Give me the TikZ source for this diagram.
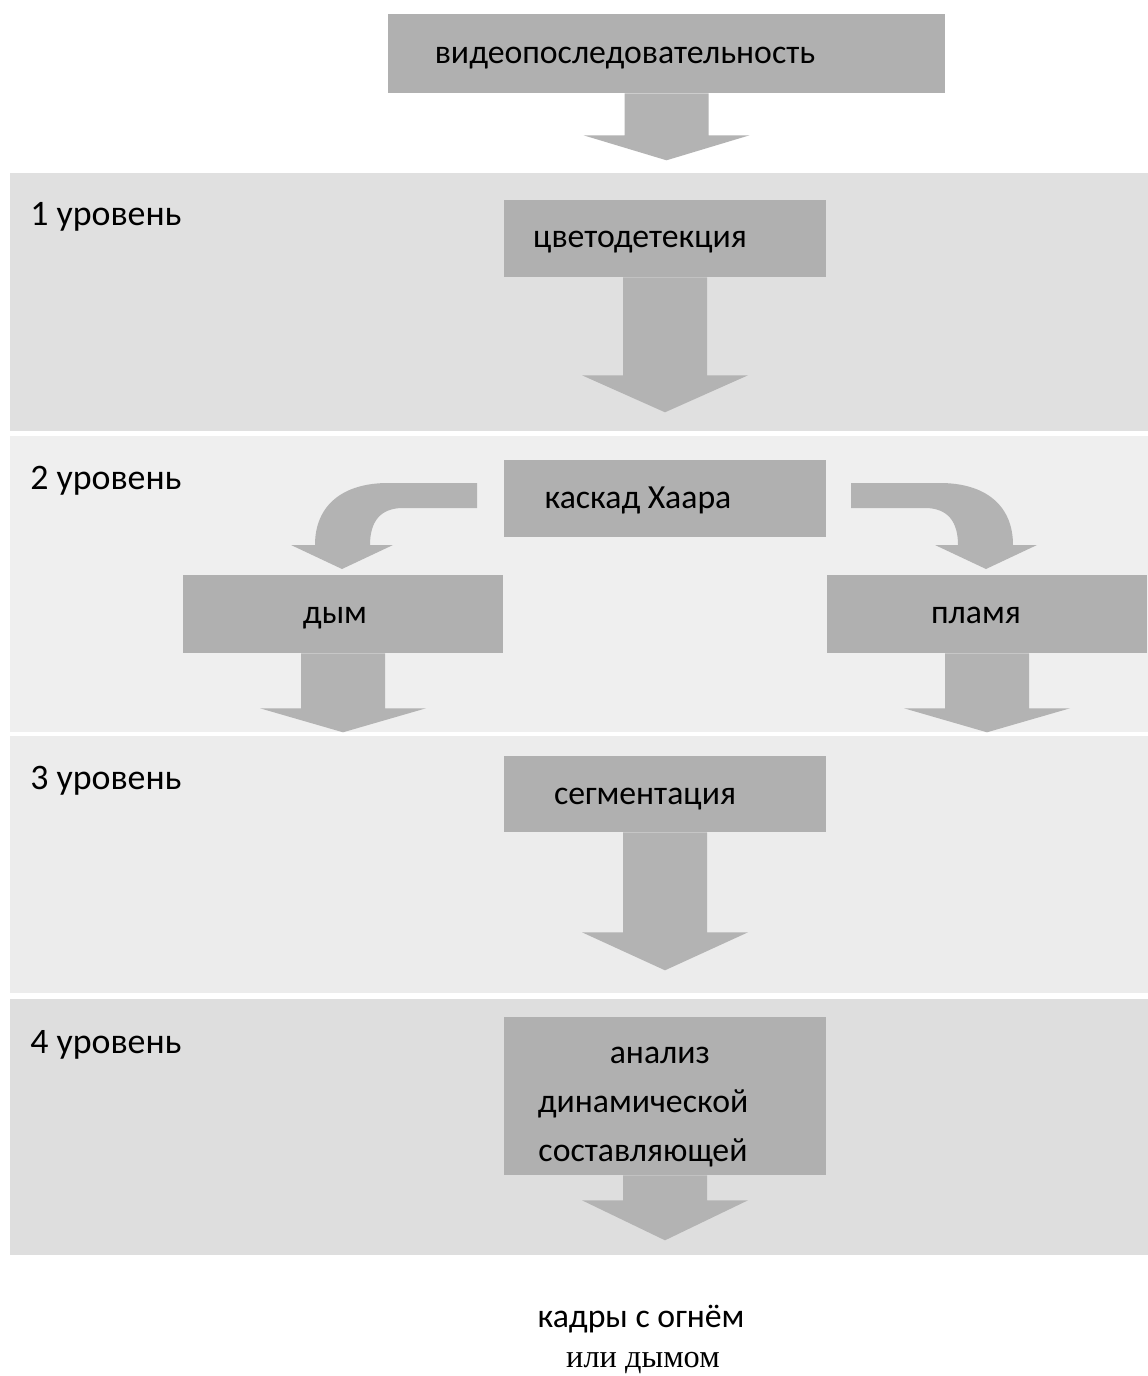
\documentclass[tikz,border=0pt]{standalone}
\usepackage{fontspec}
\setmainfont{Carlito}
\newfontfamily\serifrm{Liberation Serif}
\usetikzlibrary{calc}

\definecolor{boxgray}{HTML}{B0B0B0}
\definecolor{arrgray}{HTML}{B3B3B3}
\definecolor{bandA}{HTML}{E0E0E0}
\definecolor{bandB}{HTML}{EFEFEF}
\definecolor{bandC}{HTML}{ECECEC}
\definecolor{bandD}{HTML}{DEDEDE}

\tikzset{
  stagebox/.style={fill=boxgray, inner sep=0pt, minimum width=8.05cm},
  stagetext/.style={font=\fontsize{24}{35}\selectfont, inner sep=0pt, anchor=base},
  levellabel/.style={font=\fontsize{25.5}{30}\selectfont, anchor=base west, inner sep=0pt},
  arrowfill/.style={fill=arrgray}
}

% block arrow below a node: anchor, shaft length, head length (px units)
\newcommand{\blockarr}[3]{%
  \fill[arrowfill] ($(#1)+(-42,0)$) -- ++(84,0) -- ++(0,#2) -- ++(41,0)
    -- ++(-83,#3) -- ++(-83,-#3) -- ++(41,0) -- cycle;}

\begin{document}
\begin{tikzpicture}[x=0.025cm, y=-0.025cm]
  \useasboundingbox (0,0) rectangle (1148,1376);
  \fill[white] (0,0) rectangle (1148,1376);

  % levels
  \fill[bandA] (10,173) rectangle (1148,431);
  \fill[bandB] (10,436) rectangle (1148,732);
  \fill[bandC] (10,736) rectangle (1148,993);
  \fill[bandD] (10,999) rectangle (1148,1255);

  \node[levellabel] (lvl1) at (30,225) {1 уровень};
  \node[levellabel] (lvl2) at (30,489) {2 уровень};
  \node[levellabel] (lvl3) at (30,789) {3 уровень};
  \node[levellabel] (lvl4) at (30,1053) {4 уровень};

  % boxes
  \node[stagebox, minimum width=13.925cm, minimum height=1.975cm] (vid) at (666.5,53.5) {};
  \node[stagebox, minimum height=1.925cm] (color) at (665,238.5) {};
  \node[stagebox, minimum height=1.925cm] (haar) at (665,498.5) {};
  \node[stagebox, minimum width=8cm, minimum height=1.95cm] (smoke) at (343,614) {};
  \node[stagebox, minimum width=8cm, minimum height=1.95cm] (flame) at (987,614) {};
  \node[stagebox, minimum height=1.9cm] (segm) at (665,794) {};
  \node[stagebox, minimum height=3.95cm] (dyn) at (665,1096) {};

  \node[stagetext] (vidtxt) at (625,63) {видеопоследовательность};
  \node[stagetext] (colortxt) at (640,247) {цветодетекция};
  \node[stagetext] (haartxt) at (638,508) {каскад Хаара};
  \node[stagetext] (smoketxt) at (335,623) {дым};
  \node[stagetext] (flametxt) at (976,623) {пламя};
  \node[stagetext] (segmtxt) at (645,804) {сегментация};
  \node[stagetext, anchor=center, align=center] (dyntxt) at (643,1107) {\hspace*{24pt}анализ\\динамической\\составляющей};

  % arrows
  \blockarr{vid.south}{42}{25}
  \blockarr{color.south}{98}{37}
  \blockarr{smoke.south}{55}{24}
  \blockarr{flame.south}{55}{24}
  \blockarr{segm.south}{100}{38}
  \blockarr{dyn.south}{25}{40}

  \fill[arrowfill] (477,483) -- (388,483) .. controls (343,483) and (315,505) .. (315,545)
    -- (291,545) -- (342,569) -- (393,545) -- (370,545)
    .. controls (370,522) and (380,508) .. (403,508) -- (477,508) -- cycle;
  \fill[arrowfill] (851,483) -- (940,483) .. controls (985,483) and (1013,505) .. (1013,545)
    -- (1037,545) -- (986,569) -- (935,545) -- (958,545)
    .. controls (958,522) and (948,508) .. (925,508) -- (851,508) -- cycle;

  % result
  \node[stagetext] (res1) at (641,1327) {кадры с огнём};
  \node[font=\serifrm\fontsize{23}{28}\selectfont, inner sep=0pt, anchor=base] (res2) at (643,1367) {или дымом};
\end{tikzpicture}
\end{document}
